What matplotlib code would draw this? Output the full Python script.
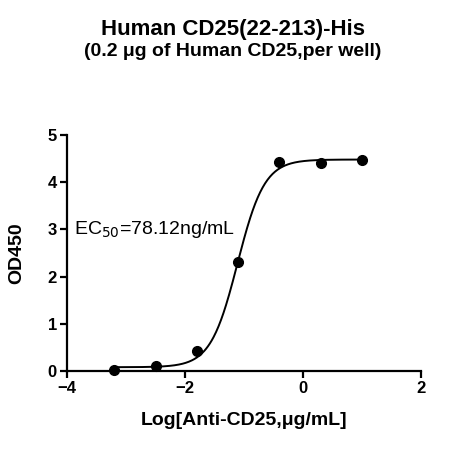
import numpy as np
import matplotlib
matplotlib.use("Agg")
import matplotlib.pyplot as plt

# Data (log10 concentration, µg/mL) and OD450 readings
log_conc = [-3.194, -2.495, -1.796, -1.097, -0.398, 0.301, 1.0]
od450 = [0.02, 0.10, 0.42, 2.30, 4.42, 4.41, 4.46]

# Fitted 4PL parameters
fit_bottom = 0.08
fit_top = 4.48
fit_log_ec50 = np.log10(0.07812)
fit_hill = 1.9

x_ticks = [-4, -2, 0, 2]
y_ticks = [0, 1, 2, 3, 4, 5]

plt.rcParams['font.family'] = ['Liberation Sans', 'DejaVu Sans']

fig = plt.figure(figsize=(4.65, 4.5), dpi=100)
ax = fig.add_axes([0.1434, 0.1756, 0.762, 0.5244])

xs = np.linspace(min(log_conc), max(log_conc), 400)
ys = fit_bottom + (fit_top - fit_bottom) / (1 + 10 ** ((fit_log_ec50 - xs) * fit_hill))
ax.plot(xs, ys, color='black', lw=1.4, clip_on=False)
ax.plot(log_conc, od450, 'o', color='black', markersize=7, clip_on=False, zorder=5)

ax.set_xlim(-4, 2)
ax.set_ylim(0, 5)
ax.set_xticks(x_ticks)
ax.set_yticks(y_ticks)
ax.spines['top'].set_visible(False)
ax.spines['right'].set_visible(False)
for s in ['left', 'bottom']:
    ax.spines[s].set_linewidth(1.6)
ax.tick_params(direction='out', length=5, width=1.6, pad=2, labelsize=12)
for lab in ax.get_xticklabels() + ax.get_yticklabels():
    lab.set_fontweight('bold')

ax.set_xlabel('Log[Anti-CD25,μg/mL]', fontsize=14, fontweight='bold')
ax.set_ylabel('OD450', fontsize=14, fontweight='bold')
ax.xaxis.set_label_coords(0.502, -0.175)
ax.yaxis.set_label_coords(-0.118, 0.5)

ax.text(-3.88, 3.0, 'EC$_{50}$=78.12ng/mL', fontsize=14, va='center', ha='left')

fig.text(0.5, 1 - 30 / 450, 'Human CD25(22-213)-His', ha='center', va='center',
         fontsize=16, fontweight='bold')
fig.text(0.5, 1 - 52 / 450, '(0.2 μg of Human CD25,per well)', ha='center', va='center',
         fontsize=14, fontweight='bold')

fig.savefig('out.png', dpi=100)
